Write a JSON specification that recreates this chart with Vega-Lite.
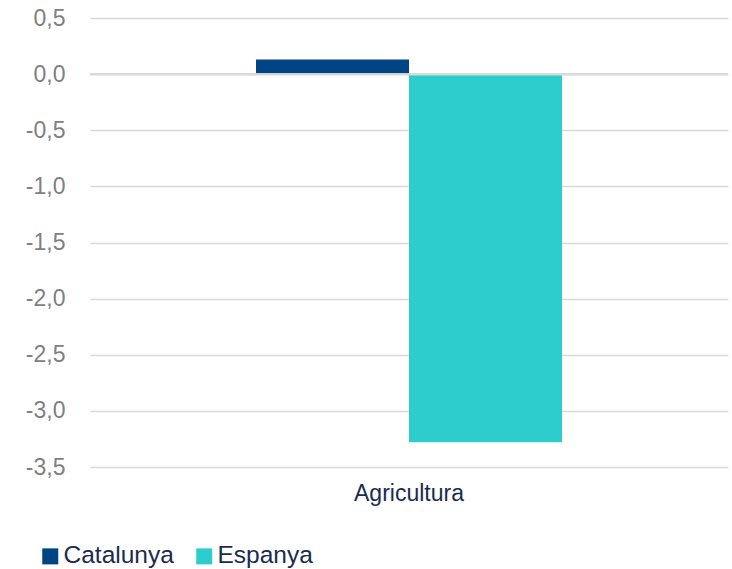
{
  "$schema": "https://vega.github.io/schema/vega-lite/v6.json",
  "autosize": "none",
  "padding": {"left": 90, "top": 18, "right": 4, "bottom": 102},
  "width": 638,
  "height": 449,
  "background": "white",
  "config": {
    "font": "Liberation Sans",
    "view": {"stroke": null}
  },
  "data": {
    "values": [
      {"sector": "Agricultura", "serie": "Catalunya", "valor": 0.13},
      {"sector": "Agricultura", "serie": "Espanya", "valor": -3.28}
    ]
  },
  "layer": [
    {
      "mark": {"type": "bar"},
      "encoding": {
        "x": {
          "field": "sector",
          "type": "nominal",
          "scale": {"paddingInner": 0, "paddingOuter": 0.5425},
          "axis": {
            "title": null,
            "domain": false,
            "ticks": false,
            "labelAngle": 0,
            "labelFontSize": 23,
            "labelColor": "#1a2c4e",
            "labelPadding": 15
          }
        },
        "xOffset": {"field": "serie", "type": "nominal", "scale": {"paddingInner": 0, "paddingOuter": 0}},
        "y": {
          "field": "valor",
          "type": "quantitative",
          "scale": {"domain": [-3.5, 0.5], "nice": false, "zero": false},
          "axis": {
            "title": null,
            "values": [0.5, 0, -0.5, -1, -1.5, -2, -2.5, -3, -3.5],
            "labelExpr": "replace(replace(format(datum.value, '.1f'), '.', ','), '\u2212', '-')",
            "domain": false,
            "ticks": false,
            "grid": true,
            "gridColor": "#d9d9d9",
            "gridWidth": 1.5,
            "labelFontSize": 23,
            "labelColor": "#7f7f7f",
            "labelPadding": 25
          }
        },
        "color": {
          "field": "serie",
          "type": "nominal",
          "scale": {"domain": ["Catalunya", "Espanya"], "range": ["#004583", "#2ecdcd"]},
          "legend": {
            "title": null,
            "orient": "none",
            "direction": "horizontal",
            "legendX": -52,
            "legendY": 526,
            "symbolType": "square",
            "symbolSize": 256,
            "symbolStrokeWidth": 0,
            "labelFontSize": 24.5,
            "labelColor": "#1a2c4e",
            "labelOffset": 1,
            "columnPadding": 18
          }
        }
      }
    },
    {
      "mark": {"type": "rule", "color": "#d9d9d9", "strokeWidth": 2},
      "encoding": {"y": {"datum": 0}}
    }
  ]
}
